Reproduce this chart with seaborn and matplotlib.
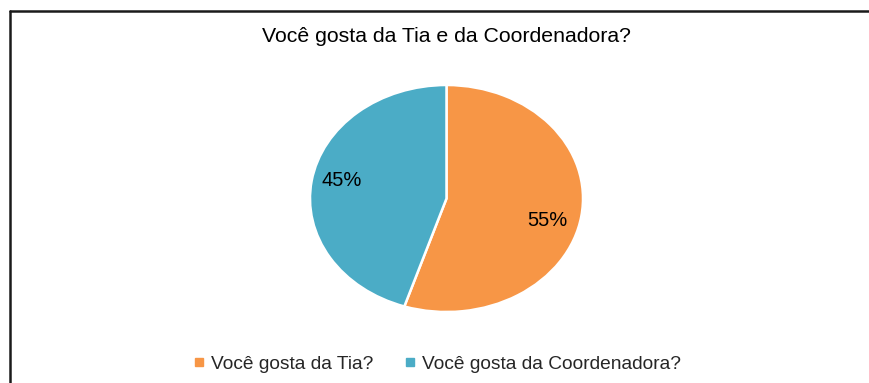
import matplotlib
matplotlib.use("Agg")
import matplotlib.pyplot as plt
from matplotlib.lines import Line2D
import seaborn as sns

title = "Você gosta da Tia e da Coordenadora?"
categories = ["Você gosta da Tia?", "Você gosta da Coordenadora?"]
values = [55, 45]
colors = ["#F79646", "#4BACC6"]

sns.set_theme(style="white")
plt.rcParams["font.family"] = ["Liberation Sans", "DejaVu Sans"]

W, H = 870, 383
fig = plt.figure(figsize=(W / 100, H / 100), dpi=100)
fig.patch.set_facecolor("white")

# pie axes mapped to the elliptical pie bounds
px_l, px_r, px_t, px_b = 310, 583, 85, 312
ax = fig.add_axes([px_l / W, (H - px_b) / H, (px_r - px_l) / W, (px_b - px_t) / H])
palette = sns.color_palette(colors)
wedges, texts, autotexts = ax.pie(
    values,
    colors=palette,
    startangle=90,
    counterclock=False,
    autopct=lambda p: f"{p:.0f}%",
    pctdistance=0.77,
    radius=1.0,
    wedgeprops=dict(edgecolor="white", linewidth=1.8),
    textprops=dict(fontsize=14.5, color="black"),
)
# Excel-like label placement
autotexts[0].set_position((0.74, -0.19))
autotexts[1].set_position((-0.77, 0.16))
ax.set_aspect("auto")
ax.set_xlim(-1.0, 1.0)
ax.set_ylim(-1.0, 1.0)
ax.axis("off")

fig.text(446.5 / W, 1 - 37 / H, title, ha="center", va="center", fontsize=15.3, color="black")

handles = [Line2D([0], [0], marker="s", linestyle="", markersize=6,
                  markerfacecolor=c, markeredgecolor=c) for c in colors]
fig.legend(handles, categories, loc="center", bbox_to_anchor=(437 / W, 1 - 364 / H),
           ncol=2, frameon=False, fontsize=13.8, handlelength=0.6,
           handletextpad=0.35, columnspacing=1.6, borderaxespad=0)

# outer frame (left and top edges visible)
fig.add_artist(Line2D([10 / W, 10 / W], [0, 1 - 11 / H], transform=fig.transFigure,
                      color="#1a1a1a", linewidth=1.8))
fig.add_artist(Line2D([10 / W, 1.0], [1 - 11 / H, 1 - 11 / H], transform=fig.transFigure,
                      color="#1a1a1a", linewidth=1.8))

fig.savefig("out.png", dpi=100, facecolor="white")
